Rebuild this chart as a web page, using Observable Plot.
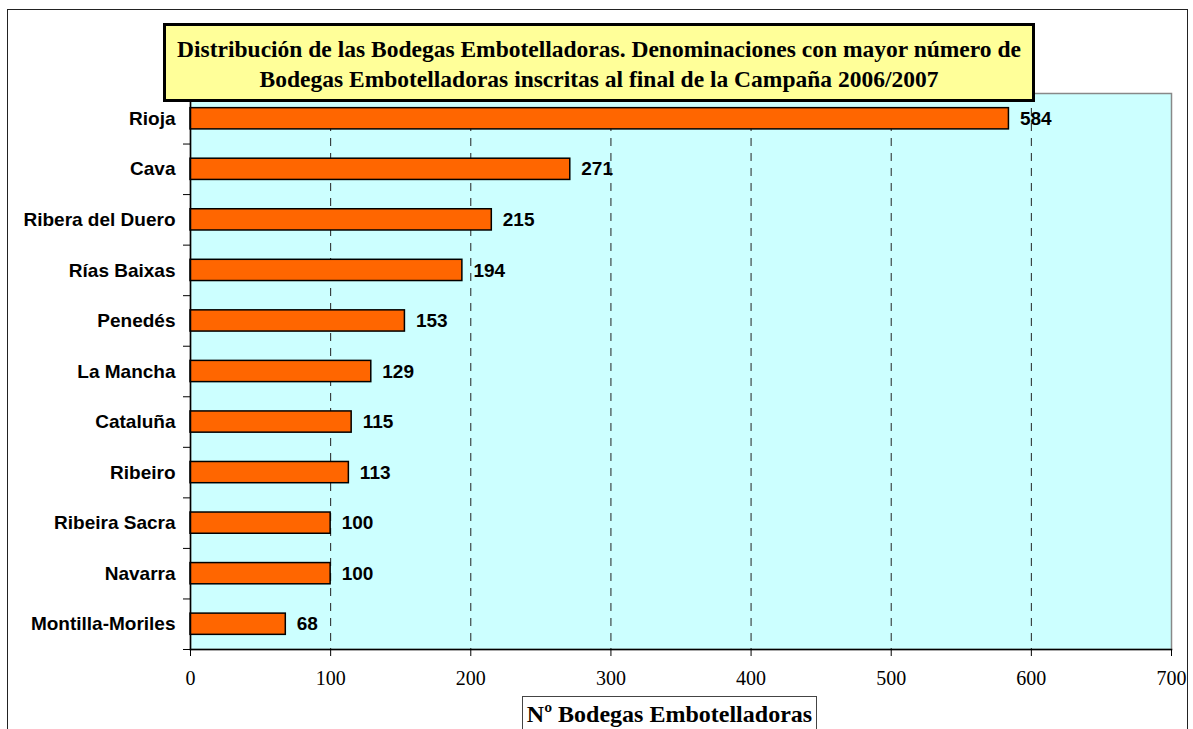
<!DOCTYPE html>
<html>
<head>
<meta charset="utf-8">
<script src="https://cdn.jsdelivr.net/npm/d3@7"></script>
<script src="https://cdn.jsdelivr.net/npm/@observablehq/plot@0.6"></script>
<style>
  html, body { margin: 0; padding: 0; background: #fff; }
  #wrap { position: relative; width: 1193px; height: 729px; overflow: hidden; }
  #border { position: absolute; left: 7px; top: 9px; width: 1181px; height: 740px; border: 1px solid #222; box-sizing: border-box; }
  #title { position: absolute; left: 163px; top: 23px; width: 872px; height: 79px; box-sizing: border-box;
    background: #FFFF99; border: 3px solid #000; font-family: "Liberation Serif", "Times New Roman", serif;
    font-weight: bold; font-size: 23.5px; line-height: 30px; text-align: center; padding-top: 8px; color: #000;
    white-space: nowrap; }
  #xtitle { position: absolute; left: 522px; top: 696px; width: 295px; height: 50px; box-sizing: border-box;
    border: 1px solid #444; font-family: "Liberation Serif", "Times New Roman", serif; font-weight: bold;
    font-size: 24px; text-align: center; padding-top: 4px; color: #000; background: #fff; white-space: nowrap; }
  #chart { position: absolute; left: 0; top: 0; }
</style>
</head>
<body>
<div id="wrap">
  <div id="border"></div>
  <div id="chart"></div>
  <div id="title">Distribución de las Bodegas Embotelladoras. Denominaciones con mayor número de<br>Bodegas Embotelladoras inscritas al final de la Campaña 2006/2007</div>
  <div id="xtitle">Nº Bodegas Embotelladoras</div>
</div>
<script>
const categories = ["Rioja", "Cava", "Ribera del Duero", "Rías Baixas", "Penedés", "La Mancha", "Cataluña", "Ribeiro", "Ribeira Sacra", "Navarra", "Montilla-Moriles"];
const values = [584, 271, 215, 194, 153, 129, 115, 113, 100, 100, 68];
const xTicks = [0, 100, 200, 300, 400, 500, 600, 700];
const gridTicks = [100, 200, 300, 400, 500, 600];

const data = categories.map((c, i) => ({name: c, value: values[i]}));

const W = 1193, H = 729, mt = 93, mb = 80, ml = 190, mr = 22;
const step = (H - mt - mb) / categories.length;

const chart = Plot.plot({
  width: W,
  height: H,
  marginTop: mt,
  marginBottom: mb,
  marginLeft: ml,
  marginRight: mr,
  style: {background: "transparent", overflow: "visible"},
  x: {domain: [0, 700], ticks: xTicks},
  y: {domain: categories, paddingInner: 0.58, paddingOuter: 0.29, round: false},
  marks: [
    Plot.frame({fill: "#CCFFFF", stroke: "#888", strokeWidth: 1.5}),
    Plot.ruleX(gridTicks, {stroke: "#222", strokeDasharray: "8,7", strokeWidth: 1}),
    Plot.barX(data, {x: "value", y: "name", fill: "#FF6600", stroke: "#000", strokeWidth: 1.5}),
    Plot.text(data, {x: "value", y: "name", text: d => String(d.value), dx: 11, textAnchor: "start",
      fontFamily: "Liberation Sans, Arial, sans-serif", fontWeight: "bold", fontSize: 19, fill: "#000"}),
    Plot.frame({anchor: "left", stroke: "#000", strokeWidth: 1.5}),
    Plot.frame({anchor: "bottom", stroke: "#000", strokeWidth: 1.5}),
    Plot.axisY({tickSize: 0, tickPadding: 15, label: null, fontFamily: "Liberation Sans, Arial, sans-serif",
      fontWeight: "bold", fontSize: 19, fill: "#000"}),
    Plot.axisY({tickSize: 7, text: null, label: null, dy: step / 2, stroke: "#000"}),
    Plot.axisX({ticks: xTicks, tickSize: 7, tickPadding: 14, label: null,
      fontFamily: "Liberation Serif, Times New Roman, serif", fontSize: 20, fill: "#000", stroke: "#000"})
  ]
});
document.getElementById("chart").appendChild(chart);
</script>
</body>
</html>
